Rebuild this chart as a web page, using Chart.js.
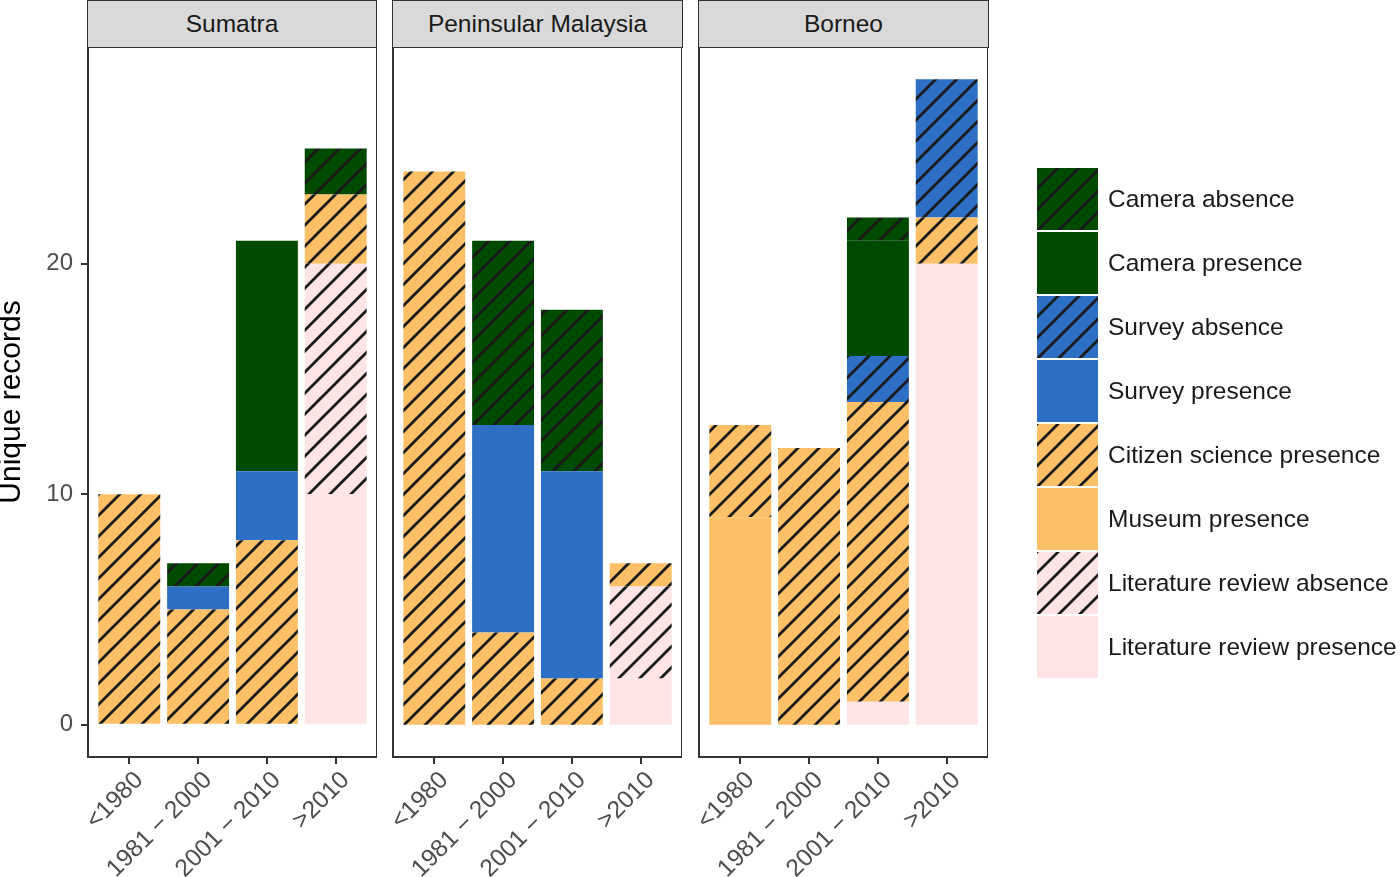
<!DOCTYPE html>
<html>
<head>
<meta charset="utf-8">
<script src="https://cdn.jsdelivr.net/npm/chart.js@4.4.0/dist/chart.umd.min.js"></script>
<style>
  body { margin: 0; background: #fff; font-family: "Liberation Sans", Arial, sans-serif; }
  #wrap { position: relative; width: 1400px; height: 877px; overflow: hidden; }
  .strip { position: absolute; top: 0; height: 48px; background: #d9d9d9; border: 1.5px solid #333;
           box-sizing: border-box; font-size: 24.5px; color: #1a1a1a; text-align: center; line-height: 46px; }
  .panel { position: absolute; top: 47px; }
  #legend { position: absolute; left: 1037px; top: 167px; }
  .key { display: flex; align-items: center; height: 64px; }
  .key canvas { width: 61px; height: 62px; margin-right: 10px; }
  .key span { font-size: 24.5px; color: #1a1a1a; }
</style>
</head>
<body>
<div id="wrap">
  <div class="strip" style="left:87px;width:290px">Sumatra</div>
  <div class="strip" style="left:392px;width:291px">Peninsular Malaysia</div>
  <div class="strip" style="left:698px;width:291px">Borneo</div>
  <canvas id="c0" class="panel" width="377" height="830" style="left:0px"></canvas>
  <canvas id="c1" class="panel" width="377" height="830" style="left:305px"></canvas>
  <canvas id="c2" class="panel" width="377" height="830" style="left:611px"></canvas>
  <div id="legend"></div>
</div>
<script>
const FONT = '"Liberation Sans", Arial, sans-serif';

const regions = ['Sumatra', 'Peninsular Malaysia', 'Borneo'];
const periods = ['<1980', '1981 \u2212 2000', '2001 \u2212 2010', '>2010'];
const yTicks = [0, 10, 20];

// one row per region, one value per period
const litPresence    = [[0, 0, 0, 10], [0, 0, 0, 2],  [0, 0, 1, 20]];
const litAbsence     = [[0, 0, 0, 10], [0, 0, 0, 4],  [0, 0, 0, 0]];
const museumPresence = [[0, 0, 0, 0],  [0, 0, 0, 0],  [9, 0, 0, 0]];
const citizenPresence= [[10, 5, 8, 3], [24, 4, 2, 1], [4, 12, 13, 2]];
const surveyPresence = [[0, 1, 3, 0],  [0, 9, 9, 0],  [0, 0, 0, 0]];
const surveyAbsence  = [[0, 0, 0, 0],  [0, 0, 0, 0],  [0, 0, 2, 6]];
const cameraPresence = [[0, 0, 10, 0], [0, 0, 0, 0],  [0, 0, 5, 0]];
const cameraAbsence  = [[0, 1, 0, 2],  [0, 8, 7, 0],  [0, 0, 1, 0]];

// bottom of the stack first
const series = [
    { label: 'Literature review presence', data: litPresence,     color: '#fee4e4', hatch: false },
    { label: 'Literature review absence',  data: litAbsence,      color: '#fee4e4', hatch: true },
    { label: 'Museum presence',            data: museumPresence,  color: '#fec066', hatch: false },
    { label: 'Citizen science presence',   data: citizenPresence, color: '#fec066', hatch: true },
    { label: 'Survey presence',            data: surveyPresence,  color: '#2c6fc4', hatch: false },
    { label: 'Survey absence',             data: surveyAbsence,   color: '#2c6fc4', hatch: true },
    { label: 'Camera presence',            data: cameraPresence,  color: '#004b00', hatch: false },
    { label: 'Camera absence',             data: cameraAbsence,   color: '#004b00', hatch: true }
];

const makeFill = (color, hatch) => {
    if (!hatch) return color;
    const s = 21;
    const tile = document.createElement('canvas');
    tile.width = s; tile.height = s;
    const g = tile.getContext('2d');
    g.fillStyle = color;
    g.fillRect(0, 0, s, s);
    g.strokeStyle = '#1a1a1a';
    g.lineWidth = 2.8;
    g.beginPath();
    [0, s, 2 * s].forEach(k => {
        g.moveTo(k + 2, -2);
        g.lineTo(k - s - 2, s + 2);
    });
    g.stroke();
    return g.createPattern(tile, 'repeat');
};
series.forEach(s => { s.fill = makeFill(s.color, s.hatch); });

const panelBorder = {
    id: 'panelBorder',
    afterDatasetsDraw(chart) {
        const { ctx, chartArea: a } = chart;
        ctx.save();
        ctx.strokeStyle = '#333';
        ctx.lineWidth = 2;
        ctx.strokeRect(a.left, a.top, a.right - a.left, a.bottom - a.top);
        ctx.restore();
    }
};

function buildPanel(canvasId, r) {
    const first = r === 0;
    const datasets = series.map(s => ({
        label: s.label,
        data: periods.map((p, i) => ({ x: i + 1, y: s.data[r][i] })),
        backgroundColor: s.fill,
        borderWidth: 0,
        barPercentage: 0.9,
        categoryPercentage: 1.0
    }));

    return new Chart(document.getElementById(canvasId), {
        type: 'bar',
        data: { datasets: datasets },
        plugins: [panelBorder],
        options: {
            responsive: false,
            animation: false,
            devicePixelRatio: 1,
            layout: { padding: { left: first ? 0 : 88, right: 0, top: 0, bottom: 0 } },
            plugins: { legend: { display: false }, tooltip: { enabled: false } },
            scales: {
                x: {
                    type: 'linear',
                    stacked: true,
                    offset: false,
                    min: 0.4,
                    max: 4.6,
                    afterBuildTicks: scale => { scale.ticks = periods.map((p, i) => ({ value: i + 1 })); },
                    afterFit: scale => { scale.height = 120; scale.paddingLeft = 0; scale.paddingRight = 0; },
                    grid: { offset: false, drawOnChartArea: false, drawTicks: true, tickLength: 7, color: '#333', lineWidth: 2 },
                    border: { display: false },
                    ticks: {
                        autoSkip: false,
                        maxRotation: 45,
                        minRotation: 45,
                        labelOffset: 10,
                        padding: 2,
                        color: '#4d4d4d',
                        font: { family: FONT, size: 24.5 },
                        callback: v => periods[Math.round(v) - 1]
                    }
                },
                y: {
                    display: first,
                    stacked: true,
                    min: -1.4,
                    max: 29.4,
                    afterBuildTicks: scale => { scale.ticks = yTicks.map(v => ({ value: v })); },
                    afterFit: scale => {
                        if (first) scale.width = 88;
                        scale.paddingTop = 0; scale.paddingBottom = 0;
                    },
                    grid: { drawOnChartArea: false, drawTicks: true, tickLength: 7, color: '#333', lineWidth: 2 },
                    border: { display: false },
                    title: {
                        display: true,
                        text: 'Unique records',
                        color: '#000',
                        padding: 0,
                        font: { family: FONT, size: 30, lineHeight: 0.8 }
                    },
                    ticks: {
                        padding: 8,
                        color: '#4d4d4d',
                        font: { family: FONT, size: 24 }
                    }
                }
            }
        }
    });
}

regions.forEach((name, r) => buildPanel('c' + r, r));

// legend, top to bottom as in the stack
const legend = document.getElementById('legend');
series.slice().reverse().forEach(s => {
    const row = document.createElement('div');
    row.className = 'key';
    const sw = document.createElement('canvas');
    sw.width = 61; sw.height = 62;
    const g = sw.getContext('2d');
    g.fillStyle = s.fill;
    g.fillRect(0, 0, 61, 62);
    const txt = document.createElement('span');
    txt.textContent = s.label;
    row.appendChild(sw);
    row.appendChild(txt);
    legend.appendChild(row);
});
</script>
</body>
</html>
